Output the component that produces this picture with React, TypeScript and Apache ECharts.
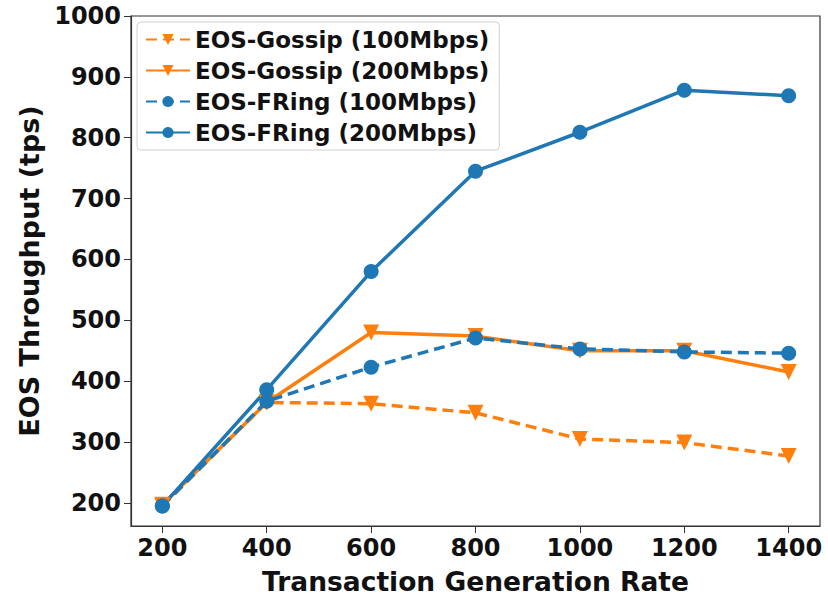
import React, { useEffect, useRef } from "react";
import * as echarts from "echarts";

const rates = [200, 400, 600, 800, 1000, 1200, 1400];
const gossip100 = [195, 365, 363, 348, 305, 299, 277];
const gossip200 = [197, 365, 480, 474, 450, 450, 415];
const fring100 = [195, 367, 423, 471, 453, 448, 446];
const fring200 = [195, 386, 580, 745, 809, 878, 869];
const yTicks = [200, 300, 400, 500, 600, 700, 800, 900, 1000];
const xTicks = [200, 400, 600, 800, 1000, 1200, 1400];

const ORANGE = "#ff7f0e";
const BLUE = "#1f77b4";
const FONT = "DejaVu Sans";

export default function App() {
  const ref = useRef<HTMLDivElement>(null);
  useEffect(() => {
    const chart = echarts.init(ref.current!, null, { renderer: "svg" });
    const mk = (name: string, vals: number[], color: string, dashed: boolean, tri: boolean) => ({
      name,
      type: "line",
      data: rates.map((r, i) => [r, vals[i]]),
      symbol: tri ? "triangle" : "circle",
      symbolRotate: tri ? 180 : 0,
      symbolSize: tri ? 16 : 15,
      lineStyle: { color, width: 3.5, type: dashed ? [11, 6] : "solid" },
      itemStyle: { color },
      z: 2,
    });
    chart.setOption({
      animation: false,
      backgroundColor: "#ffffff",
      grid: { left: 131, right: 8, top: 16, bottom: 70, show: true, borderColor: "#333", borderWidth: 1.2, backgroundColor: "transparent" },
      legend: {
        orient: "vertical",
        left: 137,
        top: 22,
        itemWidth: 44,
        itemHeight: 14,
        itemGap: 8,
        padding: [6, 10, 6, 8],
        borderColor: "#d0d0d0",
        borderWidth: 1,
        borderRadius: 4,
        textStyle: { fontFamily: FONT, fontWeight: "bold", fontSize: 23, color: "#111" },
        data: ["EOS-Gossip (100Mbps)", "EOS-Gossip (200Mbps)", "EOS-FRing (100Mbps)", "EOS-FRing (200Mbps)"],
      },
      xAxis: {
        type: "value",
        min: 140,
        max: 1460,
        name: "Transaction Generation Rate",
        nameLocation: "middle",
        nameGap: 42,
        nameTextStyle: { fontFamily: FONT, fontWeight: "bold", fontSize: 26.5, color: "#111" },
        axisLine: { show: true, lineStyle: { color: "#333", width: 1.2 } },
        axisTick: { show: true, length: 7, customValues: xTicks, lineStyle: { color: "#333" } },
        axisLabel: { customValues: xTicks, formatter: (v: number) => String(v), fontFamily: FONT, fontWeight: "bold", fontSize: 24, color: "#111", margin: 10 },
        splitLine: { show: false },
      },
      yAxis: {
        type: "value",
        min: 162,
        max: 1000,
        name: "EOS Throughput (tps)",
        nameLocation: "middle",
        nameGap: 88,
        nameRotate: 90,
        nameTextStyle: { fontFamily: FONT, fontWeight: "bold", fontSize: 27, color: "#111" },
        axisLine: { show: true, lineStyle: { color: "#333", width: 1.2 } },
        axisTick: { show: true, length: 7, customValues: yTicks, lineStyle: { color: "#333" } },
        axisLabel: { customValues: yTicks, formatter: (v: number) => String(v), fontFamily: FONT, fontWeight: "bold", fontSize: 24, color: "#111", margin: 10 },
        splitLine: { show: false },
      },
      series: [
        mk("EOS-Gossip (100Mbps)", gossip100, ORANGE, true, true),
        mk("EOS-Gossip (200Mbps)", gossip200, ORANGE, false, true),
        mk("EOS-FRing (100Mbps)", fring100, BLUE, true, false),
        mk("EOS-FRing (200Mbps)", fring200, BLUE, false, false),
      ],
    });
    return () => chart.dispose();
  }, []);
  return <div ref={ref} style={{ width: 828, height: 600, position: "absolute", left: 0, top: 0 }} />;
}
